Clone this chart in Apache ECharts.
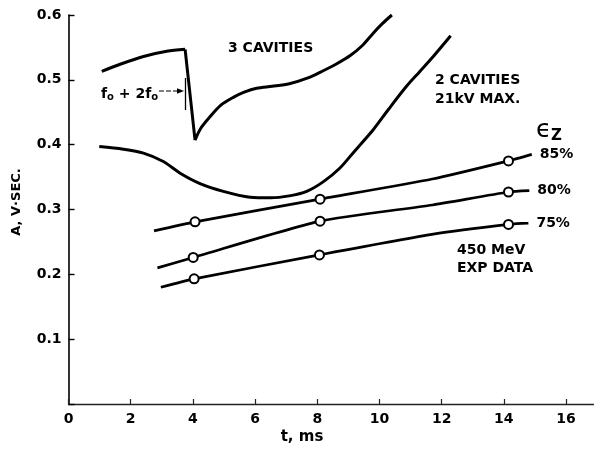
<!DOCTYPE html>
<html><head><meta charset="utf-8">
<script src="https://cdn.jsdelivr.net/npm/echarts@6/dist/echarts.min.js"></script>
<style>html,body{margin:0;padding:0;background:#fff}#c{width:594px;height:450px}</style>
</head><body><div id="c"></div>
<script>
// ---- data (t in ms, A in V·sec) ----
const cav3 = [[1.07,0.513],[1.66,0.524],[2.41,0.536],[3.16,0.544],[3.75,0.547],[4.07,0.407],[4.25,0.425],[4.55,0.443],[4.9,0.461],[5.3,0.473],[5.65,0.481],[6.05,0.487],[6.55,0.490],[7.1,0.494],[7.7,0.503],[8.19,0.514],[8.6,0.524],[9.05,0.537],[9.45,0.553],[9.8,0.572],[10.1,0.587],[10.4,0.600]];
const cav3Switch = 4; // index of the f0 -> f0+2f0 switch point (peak before drop)
const cav2 = [[0.99,0.397],[1.76,0.393],[2.41,0.387],[3.05,0.374],[3.59,0.356],[4.23,0.340],[4.98,0.328],[5.84,0.319],[6.5,0.318],[7.1,0.321],[7.66,0.328],[8.2,0.343],[8.73,0.364],[9.2,0.390],[9.8,0.423],[10.3,0.455],[10.87,0.490],[11.3,0.513],[11.73,0.536],[12.29,0.568]];
const exp85 = [[2.75,0.267],[4.07,0.281],[8.09,0.316],[11.7,0.347],[14.15,0.375],[14.9,0.385]];
const exp80 = [[2.86,0.210],[4.01,0.226],[8.09,0.282],[11.7,0.307],[14.15,0.327],[14.82,0.329]];
const exp75 = [[2.97,0.180],[4.04,0.193],[8.07,0.230],[11.73,0.262],[14.15,0.277],[14.79,0.279]];
const pts85 = [[4.07,0.281],[8.09,0.316],[14.15,0.375]];
const pts80 = [[4.01,0.226],[8.09,0.282],[14.15,0.327]];
const pts75 = [[4.04,0.193],[8.07,0.230],[14.15,0.277]];
const expNames = ['85%','80%','75%'];
const xTickLabels = ['0','2','4','6','8','10','12','14','16'];
const yTickLabels = ['','0.1','0.2','0.3','0.4','0.5','0.6'];

const FF = 'DejaVu Sans';
const chart = echarts.init(document.getElementById('c'), null, {renderer:'canvas'});
const lineStyle = {color:'#000', width:3};
function curve(data, smooth){
  return {type:'line', data:data, smooth:smooth, showSymbol:false, symbol:'none', lineStyle:lineStyle, z:3, silent:true};
}
function expLine(data, name){
  return {type:'line', data:data, smooth:0.2, showSymbol:false, symbol:'none', lineStyle:{color:'#000', width:2.7},
    z:3, silent:true,
    endLabel:{show:true, formatter:name, distance:8, color:'#000', fontFamily:FF, fontWeight:'bold', fontSize:14}};
}
function expPts(data){
  return {type:'scatter', data:data, symbol:'circle', symbolSize:9, z:5,
    itemStyle:{color:'#fff', borderColor:'#000', borderWidth:2, opacity:1}};
}
const textStyle = (t,x,y,extra) => Object.assign({type:'text', x:x, y:y, style:{text:t, fill:'#000', font:'bold 14px "DejaVu Sans"', textAlign:'left', textVerticalAlign:'middle'}}, extra||{});

chart.setOption({
  animation:false,
  backgroundColor:'#fff',
  grid:{left:68.5, right:0, top:15, bottom:46},
  xAxis:{type:'value', min:0, max:16.9, interval:2,
    axisLine:{lineStyle:{color:'#222', width:1.3}},
    axisTick:{inside:true, length:5, lineStyle:{color:'#222', width:1.2}},
    axisLabel:{margin:8, color:'#000', fontFamily:FF, fontWeight:'bold', fontSize:14, showMaxLabel:false,
      formatter:v=>{const i=Math.round(v/2); return (Math.abs(v-i*2)<1e-6 && xTickLabels[i]!==undefined)?xTickLabels[i]:'';}},
    splitLine:{show:false}},
  yAxis:{type:'value', min:0, max:0.6, interval:0.1,
    axisLine:{show:true, lineStyle:{color:'#000', width:1.6}},
    axisTick:{show:true, inside:true, length:6, lineStyle:{color:'#000', width:1.4}},
    axisLabel:{margin:7, color:'#000', fontFamily:FF, fontWeight:'bold', fontSize:14,
      formatter:v=>yTickLabels[Math.round(v*10)]||''},
    splitLine:{show:false}},
  series:[
    curve(cav3.slice(0, cav3Switch+1), 0.3),
    curve(cav3.slice(cav3Switch, cav3Switch+2), false),
    curve(cav3.slice(cav3Switch+1), 0.3),
    curve(cav2, 0.3),
    expLine(exp85, expNames[0]),
    expLine(exp80, expNames[1]),
    expLine(exp75, expNames[2]),
    expPts(pts85), expPts(pts80), expPts(pts75)
  ],
  graphic:[
    textStyle('A, V·SEC.', 17, 202, {rotation:Math.PI/2, style:{text:'A, V·SEC.', fill:'#000', font:'bold 13px "DejaVu Sans"', textAlign:'center', textVerticalAlign:'middle'}}),
    textStyle('t, ms', 302, 437, {style:{text:'t, ms', fill:'#000', font:'bold 15px "DejaVu Sans"', textAlign:'center', textVerticalAlign:'middle'}}),
    textStyle('3 CAVITIES', 228, 48),
    textStyle('2 CAVITIES', 435, 80),
    textStyle('21kV MAX.', 435, 99),
    textStyle('450 MeV', 457, 250),
    textStyle('EXP DATA', 457, 268),
    {type:'text', x:536, y:130, style:{text:'ϵ', fill:'#000', font:'25px "DejaVu Sans"', textAlign:'left', textVerticalAlign:'middle'}},
    {type:'text', x:551, y:136, style:{text:'Z', fill:'#000', font:'bold 15px "DejaVu Sans"', textAlign:'left', textVerticalAlign:'middle'}},
    {type:'text', x:101, y:94, style:{text:'{a|f}{s|o}{a| + 2f}{s|o}', fill:'#000', textAlign:'left', textVerticalAlign:'middle',
      rich:{a:{fontFamily:FF, fontWeight:'bold', fontSize:14, fill:'#000'}, s:{fontFamily:FF, fontWeight:'bold', fontSize:10, fill:'#000', padding:[6,0,0,0]}}}},
    {type:'line', shape:{x1:159, y1:91, x2:180, y2:91}, style:{stroke:'#000', lineWidth:1.2, lineDash:[5,2]}},
    {type:'polygon', shape:{points:[[184,91],[177,88.3],[177,93.7]]}, style:{fill:'#000'}},
    {type:'line', shape:{x1:185.5, y1:78, x2:185.5, y2:110}, style:{stroke:'#000', lineWidth:1.3}}
  ]
});
</script>
</body></html>
